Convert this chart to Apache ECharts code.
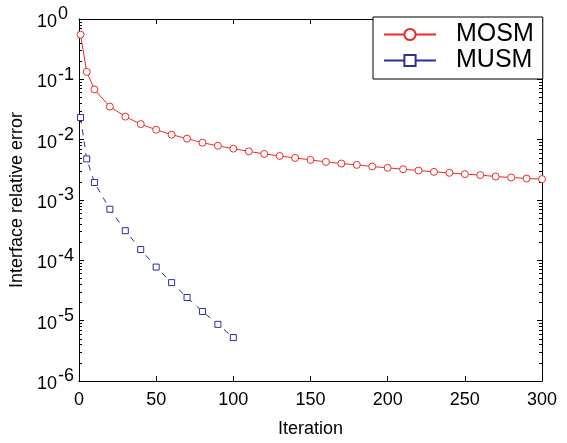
<!DOCTYPE html>
<html>
<head>
<meta charset="utf-8">
<script src="https://cdn.jsdelivr.net/npm/echarts@6/dist/echarts.min.js"></script>
<style>
  html, body { margin: 0; padding: 0; background: #fff; }
  #chart { width: 567px; height: 443px; }
</style>
</head>
<body>
<div id="chart"></div>
<script>
// iterations and error values
const mosmX = [1, 5, 10, 20, 30, 40, 50, 60, 70, 80, 90, 100, 110, 120, 130, 140, 150,
    160, 170, 180, 190, 200, 210, 220, 230, 240, 250, 260, 270, 280, 290, 300];
const mosmY = [0.55, 0.133, 0.068, 0.0353, 0.0241, 0.0181, 0.0146, 0.0121, 0.0104, 0.0089,
    0.0079, 0.0071, 0.0064, 0.0058, 0.00537, 0.00498, 0.00462, 0.00428, 0.00402, 0.00382,
    0.00359, 0.00341, 0.00324, 0.00308, 0.00293, 0.00282, 0.00268, 0.00259, 0.00245,
    0.00236, 0.00227, 0.00222];
const musmX = [1, 5, 10, 20, 30, 40, 50, 60, 70, 80, 90, 100];
const musmY = [0.0233, 0.0048, 0.00195, 0.000703, 0.00031, 0.000151, 7.73e-5, 4.27e-5,
    2.42e-5, 1.42e-5, 8.69e-6, 5.25e-6];

const xTicks = [0, 50, 100, 150, 200, 250, 300];
const decades = [-6, -5, -4, -3, -2, -1, 0];
const minorMult = [2, 3, 4, 5, 6, 7, 8, 9];

// minor tick positions of the log axis, in log10 space
let minorTicks = [];
decades.slice(0, -1).forEach(d => minorMult.forEach(m => minorTicks.push(d + Math.log10(m))));

const RED = '#ee2a2a';
const BLUE = '#2e3192';
const FONT = 'Liberation Sans';

let myChart = echarts.init(document.getElementById('chart'));

function xAxisDef(pos, show) {
    return {
        type: 'value', position: pos, min: 0, max: 300, interval: 50,
        name: show ? 'Iteration' : '', nameLocation: 'middle', nameGap: 39,
        nameTextStyle: { fontFamily: FONT, fontSize: 18, color: '#000' },
        axisLine: { onZero: false, lineStyle: { color: '#000', width: 1 } },
        axisTick: { inside: true, length: 5, lineStyle: { color: '#000' } },
        axisLabel: { show: show, margin: 10, fontFamily: FONT, fontSize: 18, color: '#000',
            customValues: xTicks },
        splitLine: { show: false }
    };
}

function minorAxisDef(pos) {
    return {
        type: 'value', position: pos, min: -6, max: 0,
        axisLine: { show: false, onZero: false },
        axisTick: { inside: true, length: 3, customValues: minorTicks, lineStyle: { color: '#000' } },
        axisLabel: { show: false },
        splitLine: { show: false }
    };
}

let option = {
    animation: false,
    backgroundColor: '#fff',
    grid: { left: 79, top: 19, right: 25, bottom: 59 },
    legend: {
        orient: 'vertical',
        left: 373, top: 17,
        padding: [5, 9, 6, 10],
        itemGap: 1,
        itemWidth: 52, itemHeight: 14,
        borderColor: '#000', borderWidth: 1, borderRadius: 0,
        backgroundColor: '#fff',
        lineStyle: { type: 'solid' },
        textStyle: { fontFamily: FONT, fontSize: 25, color: '#000', padding: [0, 0, 0, 15] },
        data: ['MOSM', 'MUSM']
    },
    xAxis: [xAxisDef('bottom', true), xAxisDef('top', false)],
    yAxis: [
        {
            type: 'log', logBase: 10, min: 1e-6, max: 1, position: 'left',
            name: 'Interface relative error', nameLocation: 'middle', nameGap: 49,
            nameTextStyle: { fontFamily: FONT, fontSize: 18, color: '#000' },
            axisLine: { onZero: false, lineStyle: { color: '#000', width: 1 } },
            axisTick: { inside: true, length: 5, lineStyle: { color: '#000' } },
            axisLabel: {
                margin: 42,
                align: 'left',
                padding: [6, 0, 0, 0],
                formatter: v => '{b|10}{e|' + Math.round(Math.log10(v)) + '}',
                rich: {
                    b: { fontFamily: FONT, fontSize: 18, color: '#000' },
                    e: { fontFamily: FONT, fontSize: 18, color: '#000', padding: [0, 0, 15, 1] }
                }
            },
            splitLine: { show: false }
        },
        {
            type: 'log', logBase: 10, min: 1e-6, max: 1, position: 'right',
            axisLine: { onZero: false, lineStyle: { color: '#000', width: 1 } },
            axisTick: { inside: true, length: 5, lineStyle: { color: '#000' } },
            axisLabel: { show: false },
            splitLine: { show: false }
        },
        minorAxisDef('left'),
        minorAxisDef('right')
    ],
    series: [
        {
            name: 'MOSM', type: 'line',
            data: mosmX.map((x, i) => [x, mosmY[i]]),
            symbol: 'circle', symbolSize: 7,
            color: RED,
            lineStyle: { color: RED, width: 1 },
            itemStyle: { color: '#fff', borderColor: RED, borderWidth: 1 }
        },
        {
            name: 'MUSM', type: 'line',
            data: musmX.map((x, i) => [x, musmY[i]]),
            symbol: 'rect', symbolSize: 6,
            color: BLUE,
            lineStyle: { color: BLUE, width: 1, type: [6, 6] },
            itemStyle: { color: '#fff', borderColor: BLUE, borderWidth: 1 }
        }
    ]
};

myChart.setOption(option);
</script>
</body>
</html>
